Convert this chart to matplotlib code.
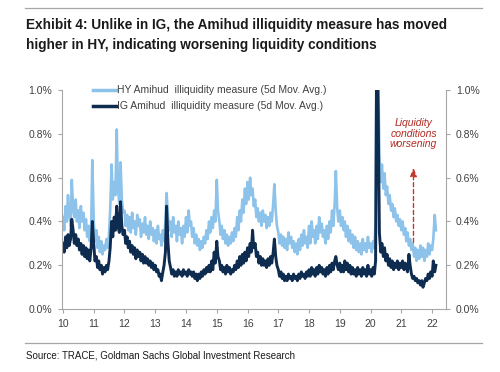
import numpy as np
import pandas as pd
import matplotlib
matplotlib.use("Agg")
import matplotlib.pyplot as plt
from matplotlib.ticker import FuncFormatter

plt.rcParams["path.simplify"] = False

# Semi-monthly readings (% values), starting Jan 2010
hy_values = [
    # 2010
    0.42, 0.36, 0.47, 0.40, 0.52, 0.44, 0.38, 0.59, 0.46, 0.42, 0.50, 0.40, 0.45, 0.37, 0.47, 0.40, 0.44, 0.36, 0.41, 0.33, 0.38, 0.31, 0.36, 0.68,
    # 2011
    0.40, 0.31, 0.36, 0.28, 0.33, 0.26, 0.31, 0.25, 0.29, 0.27, 0.32, 0.28, 0.34, 0.45, 0.66, 0.50, 0.58, 0.52, 0.82, 0.55, 0.48, 0.67, 0.50, 0.44,
    # 2012
    0.45, 0.38, 0.43, 0.36, 0.42, 0.35, 0.44, 0.37, 0.40, 0.34, 0.43, 0.38, 0.41, 0.33, 0.39, 0.35, 0.42, 0.34, 0.38, 0.32, 0.40, 0.34, 0.37, 0.31,
    # 2013
    0.36, 0.30, 0.38, 0.32, 0.34, 0.29, 0.36, 0.31, 0.40, 0.53, 0.42, 0.36, 0.40, 0.33, 0.42, 0.35, 0.38, 0.31, 0.40, 0.34, 0.37, 0.30, 0.38, 0.33,
    # 2014
    0.42, 0.35, 0.45, 0.38, 0.40, 0.33, 0.37, 0.30, 0.34, 0.29, 0.32, 0.27, 0.31, 0.28, 0.33, 0.30, 0.36, 0.32, 0.40, 0.35, 0.42, 0.37, 0.45, 0.40,
    # 2015
    0.59, 0.45, 0.40, 0.34, 0.38, 0.32, 0.36, 0.30, 0.34, 0.29, 0.33, 0.30, 0.35, 0.31, 0.37, 0.33, 0.42, 0.36, 0.45, 0.40, 0.50, 0.44, 0.55, 0.48,
    # 2016
    0.58, 0.50, 0.60, 0.52, 0.55, 0.47, 0.50, 0.42, 0.46, 0.40, 0.44, 0.38, 0.45, 0.40, 0.43, 0.37, 0.42, 0.38, 0.44, 0.40, 0.48, 0.57, 0.45, 0.38,
    # 2017
    0.35, 0.30, 0.34, 0.29, 0.33, 0.28, 0.32, 0.27, 0.35, 0.30, 0.33, 0.28, 0.31, 0.26, 0.30, 0.25, 0.32, 0.27, 0.34, 0.29, 0.36, 0.30, 0.33, 0.28,
    # 2018
    0.38, 0.30, 0.40, 0.33, 0.36, 0.30, 0.38, 0.32, 0.42, 0.35, 0.39, 0.33, 0.36, 0.30, 0.38, 0.32, 0.40, 0.35, 0.45, 0.38, 0.48, 0.63, 0.46, 0.40,
    # 2019
    0.45, 0.38, 0.42, 0.36, 0.40, 0.33, 0.38, 0.31, 0.36, 0.30, 0.34, 0.28, 0.33, 0.27, 0.31, 0.26, 0.30, 0.25, 0.32, 0.27, 0.30, 0.26, 0.33, 0.28,
    # 2020
    0.30, 0.26, 0.31, 0.28, 0.40, 1.40, 1.10, 0.70, 0.58, 0.66, 0.55, 0.62, 0.52, 0.56, 0.48, 0.52, 0.45, 0.48, 0.42, 0.46, 0.40, 0.43, 0.38, 0.41,
    # 2021
    0.36, 0.40, 0.34, 0.37, 0.31, 0.35, 0.29, 0.32, 0.27, 0.30, 0.24, 0.28, 0.22, 0.27, 0.23, 0.29, 0.24, 0.28, 0.22, 0.27, 0.24, 0.30, 0.25, 0.29,
    # 2022
    0.27, 0.32, 0.43, 0.36,
]

ig_values = [
    # 2010
    0.30, 0.26, 0.33, 0.28, 0.34, 0.29, 0.32, 0.41, 0.36, 0.30, 0.34, 0.29, 0.32, 0.27, 0.30, 0.25, 0.29, 0.24, 0.28, 0.23, 0.27, 0.22, 0.28, 0.40,
    # 2011
    0.30, 0.22, 0.24, 0.19, 0.22, 0.18, 0.20, 0.16, 0.19, 0.17, 0.20, 0.18, 0.22, 0.28, 0.40, 0.33, 0.42, 0.36, 0.47, 0.38, 0.35, 0.49, 0.38, 0.34,
    # 2012
    0.36, 0.30, 0.33, 0.28, 0.31, 0.26, 0.29, 0.25, 0.28, 0.23, 0.27, 0.24, 0.26, 0.22, 0.25, 0.21, 0.24, 0.21, 0.23, 0.20, 0.22, 0.19, 0.21, 0.18,
    # 2013
    0.20, 0.17, 0.18, 0.15, 0.16, 0.13, 0.17, 0.20, 0.26, 0.47, 0.30, 0.22, 0.19, 0.16, 0.18, 0.15, 0.17, 0.15, 0.18, 0.16, 0.17, 0.15, 0.18, 0.16,
    # 2014
    0.17, 0.15, 0.18, 0.16, 0.17, 0.15, 0.17, 0.14, 0.16, 0.13, 0.16, 0.14, 0.17, 0.15, 0.18, 0.16, 0.19, 0.17, 0.20, 0.17, 0.22, 0.18, 0.26, 0.21,
    # 2015
    0.31, 0.24, 0.22, 0.18, 0.20, 0.17, 0.19, 0.16, 0.20, 0.17, 0.19, 0.16, 0.18, 0.17, 0.20, 0.18, 0.22, 0.19, 0.24, 0.20, 0.25, 0.21, 0.26, 0.22,
    # 2016
    0.28, 0.24, 0.30, 0.26, 0.36, 0.28, 0.30, 0.24, 0.26, 0.21, 0.24, 0.20, 0.23, 0.20, 0.22, 0.19, 0.23, 0.20, 0.24, 0.21, 0.26, 0.32, 0.24, 0.20,
    # 2017
    0.18, 0.15, 0.17, 0.14, 0.16, 0.13, 0.15, 0.13, 0.16, 0.14, 0.15, 0.13, 0.16, 0.14, 0.15, 0.13, 0.16, 0.14, 0.17, 0.15, 0.16, 0.14, 0.17, 0.15,
    # 2018
    0.18, 0.15, 0.19, 0.16, 0.18, 0.15, 0.19, 0.16, 0.20, 0.17, 0.19, 0.16, 0.18, 0.15, 0.19, 0.16, 0.20, 0.17, 0.21, 0.18, 0.22, 0.24, 0.20, 0.18,
    # 2019
    0.21, 0.17, 0.20, 0.17, 0.22, 0.18, 0.21, 0.17, 0.20, 0.16, 0.19, 0.16, 0.18, 0.15, 0.19, 0.16, 0.18, 0.15, 0.19, 0.16, 0.18, 0.15, 0.20, 0.16,
    # 2020
    0.18, 0.15, 0.19, 0.16, 0.22, 1.30, 0.90, 0.35, 0.26, 0.30, 0.24, 0.28, 0.22, 0.25, 0.20, 0.23, 0.19, 0.22, 0.18, 0.21, 0.19, 0.22, 0.18, 0.21,
    # 2021
    0.19, 0.22, 0.18, 0.21, 0.19, 0.17, 0.25, 0.20, 0.16, 0.14, 0.15, 0.13, 0.14, 0.12, 0.13, 0.11, 0.13, 0.10, 0.12, 0.14, 0.13, 0.16, 0.14, 0.17,
    # 2022
    0.15, 0.22, 0.17, 0.20,
]

year_labels = ["10", "11", "12", "13", "14", "15", "16", "17", "18", "19", "20", "21", "22"]
y_ticks = [0.0, 0.2, 0.4, 0.6, 0.8, 1.0]

dates = pd.date_range("2010-01-01", periods=len(hy_values), freq="SMS")

HY_COLOR = "#8DC3EA"
IG_COLOR = "#0E2B50"
GRAY = "#A6A6A6"
FONT = ["Liberation Sans", "DejaVu Sans"]

fig = plt.figure(figsize=(5.0, 3.72), dpi=100)
ax = fig.add_axes([0.124, 0.169, 0.768, 0.589])

ax.plot(dates, hy_values, color=HY_COLOR, lw=1.9, label="HY Amihud  illiquidity measure (5d Mov. Avg.)")
ax.plot(dates, ig_values, color=IG_COLOR, lw=2.1, label="IG Amihud  illiquidity measure (5d Mov. Avg.)")

ax.set_ylim(0, 1.0)
ax.set_xlim(pd.Timestamp("2009-12-20"), pd.Timestamp("2022-06-15"))

ax.set_yticks(y_ticks)
ax.yaxis.set_major_formatter(FuncFormatter(lambda v, p: f"{v:.1f}%"))
ax.tick_params(axis="y", which="both", left=True, right=True, labelleft=True, labelright=True,
               direction="out", length=3, color=GRAY, labelsize=7.5, labelcolor="#404040", pad=4)

tick_dates = [pd.Timestamp(f"20{y}-01-01") for y in year_labels]
ax.set_xticks(tick_dates)
ax.set_xticklabels(year_labels)
ax.tick_params(axis="x", direction="out", length=3, color=GRAY, labelsize=7.5, labelcolor="#404040", pad=4)

for lab in ax.get_xticklabels() + ax.yaxis.get_ticklabels(which="both"):
    lab.set_fontfamily(FONT)

ax.spines["top"].set_visible(False)
for s in ["left", "right", "bottom"]:
    ax.spines[s].set_color(GRAY)
    ax.spines[s].set_linewidth(0.8)

leg = ax.legend(loc="upper left", bbox_to_anchor=(0.07, 1.04), frameon=False,
                prop={"family": FONT, "size": 7.5}, handlelength=2.2, handletextpad=0.1,
                labelspacing=0.55, borderaxespad=0)
for t in leg.get_texts():
    t.set_color("#404040")
for h in leg.get_lines():
    h.set_linewidth(2.5)

# Annotation
arrow_x = pd.Timestamp("2021-05-25")
ax.annotate("", xy=(arrow_x, 0.645), xytext=(arrow_x, 0.305),
            arrowprops=dict(arrowstyle="-|>,head_length=0.5,head_width=0.2", color="#C0392B",
                            lw=1.0, linestyle=(0, (3, 2)), shrinkA=0, shrinkB=0))
ax.text(arrow_x, 0.80, "Liquidity\nconditions\nworsening", color="#B22B22", style="italic",
        fontsize=7.5, family=FONT, ha="center", va="center", linespacing=1.05)

# Title, rules, source
fig.add_artist(plt.Line2D([0.05, 0.964], [1 - 8 / 372, 1 - 8 / 372], color=GRAY, lw=0.9))
fig.text(0.052, 1 - 25 / 372, "Exhibit 4: Unlike in IG, the Amihud illiquidity measure has moved",
         fontsize=9.8, fontweight="bold", family=FONT, color="#1a1a1a", va="center")
fig.text(0.052, 1 - 45 / 372, "higher in HY, indicating worsening liquidity conditions",
         fontsize=9.8, fontweight="bold", family=FONT, color="#1a1a1a", va="center")
fig.add_artist(plt.Line2D([0.05, 0.964], [1 - 343 / 372, 1 - 343 / 372], color=GRAY, lw=0.9))
fig.text(0.052, 1 - 355 / 372, "Source: TRACE, Goldman Sachs Global Investment Research",
         fontsize=7.0, family=FONT, color="#1a1a1a", va="center")

fig.savefig("out.png", dpi=100)
